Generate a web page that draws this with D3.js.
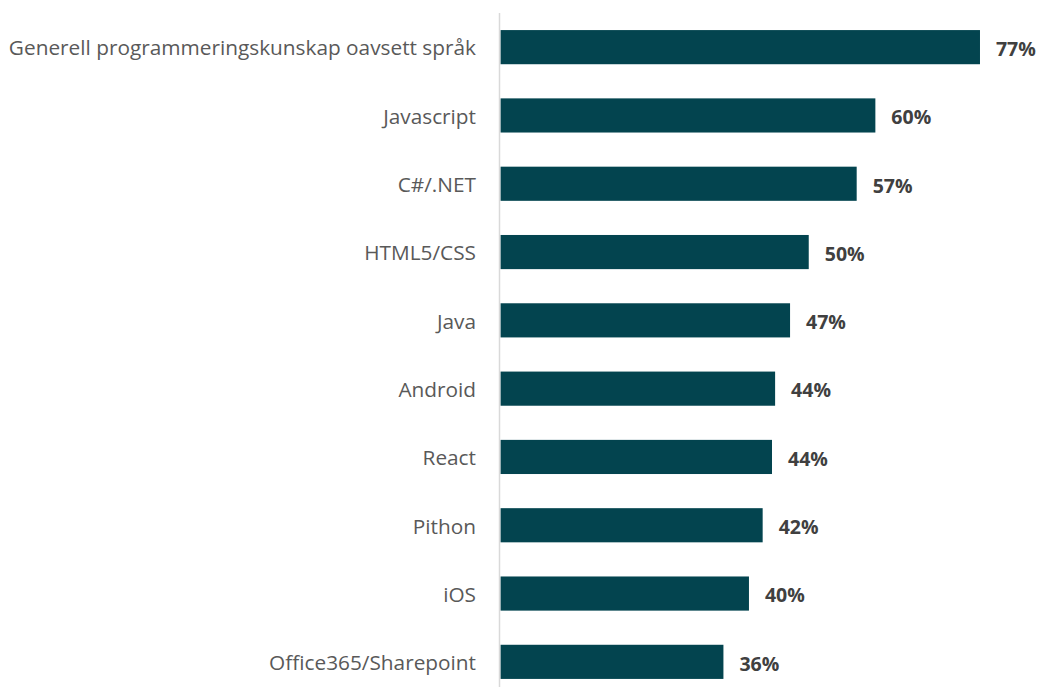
<!DOCTYPE html>
<html>
<head>
<meta charset="utf-8">
<script src="https://cdn.jsdelivr.net/npm/d3@7"></script>
<style>
  body { margin: 0; background: #fff; }
  svg { display: block; }
</style>
</head>
<body>
<svg id="chart" width="1040" height="687"></svg>
<script>
// data (labels as printed)
var categories = ["Generell programmeringskunskap oavsett språk", "Javascript", "C#/.NET", "HTML5/CSS", "Java", "Android", "React", "Pithon", "iOS", "Office365/Sharepoint"];
var values = [77, 60.2, 57.2, 49.5, 46.5, 44.1, 43.6, 42.1, 39.9, 35.8];
var labels = ["77%", "60%", "57%", "50%", "47%", "44%", "44%", "42%", "40%", "36%"];

var svg = d3.select("#chart");

var x = d3.scaleLinear()
    .domain([0, 100])
    .range([500.5, 1123.2]);

var y = d3.scaleBand()
    .domain(categories)
    .range([13, 696])
    .paddingInner(0.5)
    .paddingOuter(0.25);

// bars
svg.append("g")
  .selectAll("rect")
  .data(values)
  .enter()
  .append("rect")
    .attr("x", x(0))
    .attr("y", function(d, i){ return y(categories[i]) })
    .attr("width", function(d){ return x(d) - x(0) })
    .attr("height", y.bandwidth())
    .attr("fill", "#03444f");

// vertical axis line
svg.append("line")
    .attr("x1", 499.5).attr("x2", 499.5)
    .attr("y1", 13).attr("y2", 687)
    .attr("stroke", "#d9d9d9")
    .attr("stroke-width", 1.5);

// category labels
svg.append("g")
  .selectAll("text")
  .data(categories)
  .enter()
  .append("text")
    .attr("x", 476)
    .attr("y", function(d){ return y(d) + y.bandwidth() / 2 + 1 })
    .attr("dy", "0.35em")
    .attr("text-anchor", "end")
    .attr("font-family", "'Open Sans', sans-serif")
    .attr("font-size", 20.8)
    .attr("fill", "#595959")
    .text(function(d){ return d });

// value labels
svg.append("g")
  .selectAll("text")
  .data(values)
  .enter()
  .append("text")
    .attr("x", function(d){ return x(d) + 16 })
    .attr("y", function(d, i){ return y(categories[i]) + y.bandwidth() / 2 + 2 })
    .attr("dy", "0.35em")
    .attr("font-family", "'Open Sans', sans-serif")
    .attr("font-weight", "bold")
    .attr("font-size", 19.5)
    .attr("fill", "#404040")
    .text(function(d, i){ return labels[i] });
</script>
</body>
</html>
